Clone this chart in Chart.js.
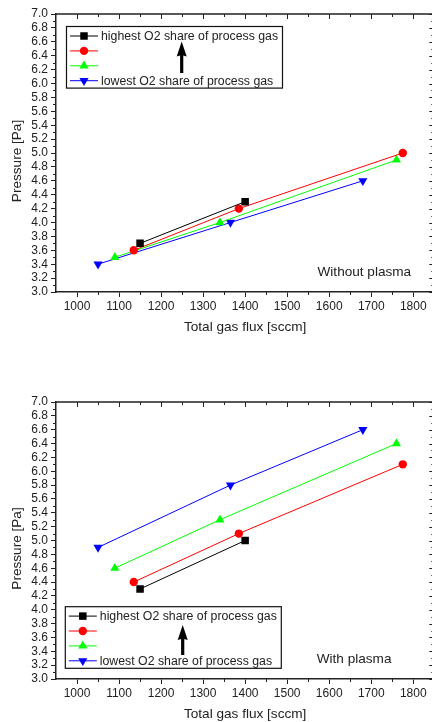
<!DOCTYPE html>
<html><head><meta charset="utf-8">
<script src="https://cdn.jsdelivr.net/npm/chart.js@4/dist/chart.umd.min.js"></script>
<style>
html,body{margin:0;padding:0;background:#fff;overflow:hidden;width:432px;height:722px}
#wrap{width:432px;height:722px;overflow:hidden;position:relative;background:#fff}
canvas{display:block}
</style></head><body>
<div id="wrap"><canvas id="c1" width="440" height="361"></canvas><canvas id="c2" width="440" height="361"></canvas></div>
<script>
// ---- data ----
const seriesLabels = ['highest O2 share of process gas', '', '', 'lowest O2 share of process gas'];
const fluxBlack = [1150, 1400];
const fluxRed   = [1135, 1385, 1775];
const fluxGreen = [1090, 1340, 1760];
const fluxBlue  = [1050, 1365, 1680];
const pNoPlasmaBlack = [3.7, 4.3];
const pNoPlasmaRed   = [3.6, 4.2, 5.0];
const pNoPlasmaGreen = [3.5, 4.0, 4.9];
const pNoPlasmaBlue  = [3.4, 4.0, 4.6];
const pPlasmaBlack = [4.3, 5.0];
const pPlasmaRed   = [4.4, 5.1, 6.1];
const pPlasmaGreen = [4.6, 5.3, 6.4];
const pPlasmaBlue  = [4.9, 5.8, 6.6];
const xTicks = [1000, 1100, 1200, 1300, 1400, 1500, 1600, 1700, 1800];
const yTicks = [3.0, 3.2, 3.4, 3.6, 3.8, 4.0, 4.2, 4.4, 4.6, 4.8, 5.0, 5.2, 5.4, 5.6, 5.8, 6.0, 6.2, 6.4, 6.6, 6.8, 7.0];
const xRange = [950, 1850];
const yRange = [3.0, 7.0];
const xTitle = 'Total gas flux [sccm]';
const yTitle = 'Pressure [Pa]';

const FONT = '"Liberation Sans", Arial, Helvetica, sans-serif';
const INK = '#222';
const mids = a => a.slice(1).map((v, i) => (v + a[i]) / 2);
const xMinor = mids(xTicks);
const yMinor = mids(yTicks);

function pts(xs, ys) { return xs.map((x, i) => ({x: x, y: ys[i]})); }

const styles = [
  {color: '#000000', pointStyle: 'rect', r: 5.3, rot: 0},
  {color: '#ff0000', pointStyle: 'circle', r: 4.2, rot: 0},
  {color: '#00ff00', pointStyle: 'triangle', r: 5.3, rot: 0},
  {color: '#0000ff', pointStyle: 'triangle', r: 5.3, rot: 180}
];

function makeDatasets(series) {
  return series.map((s, i) => ({
    label: seriesLabels[i],
    data: pts(s[0], s[1]),
    showLine: true,
    borderColor: styles[i].color,
    backgroundColor: styles[i].color,
    borderWidth: 1,
    tension: 0,
    pointStyle: styles[i].pointStyle,
    pointRotation: styles[i].rot,
    pointRadius: styles[i].r,
    pointHoverRadius: styles[i].r,
    pointBorderWidth: 0,
    pointBackgroundColor: styles[i].color,
    pointBorderColor: styles[i].color
  }));
}

const framePlugin = {
  id: 'frame',
  afterDraw(chart, args, o) {
    const {ctx, chartArea: a, scales: {x, y}} = chart;
    ctx.save();
    ctx.strokeStyle = INK;
    ctx.lineWidth = 1.5;
    ctx.beginPath();
    ctx.moveTo(a.left, a.top); ctx.lineTo(a.right, a.top); ctx.lineTo(a.right, a.bottom);
    ctx.stroke();
    ctx.lineWidth = 1;
    ctx.beginPath();
    const MJ = 5, MN = 3;
    xTicks.forEach(v => { const p = Math.round(x.getPixelForValue(v)) + 0.5; ctx.moveTo(p, a.top); ctx.lineTo(p, a.top + MJ); });
    xMinor.forEach(v => {
      const p = Math.round(x.getPixelForValue(v)) + 0.5;
      ctx.moveTo(p, a.top); ctx.lineTo(p, a.top + MN);
      ctx.moveTo(p, a.bottom); ctx.lineTo(p, a.bottom + MN);
    });
    yTicks.forEach(v => { const p = Math.round(y.getPixelForValue(v)) + 0.5; ctx.moveTo(a.right, p); ctx.lineTo(a.right - MJ, p); });
    yMinor.forEach(v => {
      const p = Math.round(y.getPixelForValue(v)) + 0.5;
      ctx.moveTo(a.left, p); ctx.lineTo(a.left - MN, p);
      ctx.moveTo(a.right, p); ctx.lineTo(a.right - MN, p);
    });
    ctx.stroke();
    // y title
    ctx.fillStyle = INK;
    ctx.font = '13.6px ' + FONT;
    ctx.textAlign = 'center'; ctx.textBaseline = 'middle';
    ctx.translate(o.yTitleX, (a.top + a.bottom) / 2 + o.yTitleShift);
    ctx.rotate(-Math.PI / 2);
    ctx.fillText(yTitle, 0, 0);
    ctx.restore();
    // annotation
    ctx.save();
    ctx.fillStyle = INK;
    ctx.font = '13.6px ' + FONT;
    ctx.textAlign = 'left'; ctx.textBaseline = 'middle';
    ctx.fillText(o.note, o.noteX, o.noteY);
    ctx.restore();
  }
};

const boxLegend = {
  id: 'boxLegend',
  afterDraw(chart, args, o) {
    const ctx = chart.ctx;
    ctx.save();
    ctx.fillStyle = '#fff';
    ctx.fillRect(o.x, o.y, o.w, o.h);
    ctx.strokeStyle = '#111';
    ctx.lineWidth = 1.2;
    ctx.strokeRect(o.x, o.y, o.w, o.h);
    chart.data.datasets.forEach((ds, i) => {
      const yy = o.y + o.first + i * o.step;
      ctx.strokeStyle = ds.borderColor; ctx.lineWidth = 1;
      ctx.beginPath(); ctx.moveTo(o.x + 3.5, yy); ctx.lineTo(o.x + 31.5, yy); ctx.stroke();
      ctx.fillStyle = ds.pointBackgroundColor; ctx.strokeStyle = ds.pointBorderColor;
      Chart.helpers.drawPoint(ctx, {pointStyle: ds.pointStyle, radius: ds.pointRadius, rotation: ds.pointRotation, borderWidth: 0}, o.x + 17.5, yy);
      if (ds.label) {
        ctx.fillStyle = INK; ctx.font = '12.3px ' + FONT;
        ctx.textAlign = 'left'; ctx.textBaseline = 'middle';
        ctx.fillText(ds.label, o.x + 34.5, yy + 0.5);
      }
    });
    // arrow
    ctx.fillStyle = '#000';
    ctx.beginPath();
    ctx.moveTo(o.ax, o.atip);
    ctx.lineTo(o.ax + 5, o.atip + 15);
    ctx.lineTo(o.ax + 1.6, o.atip + 14);
    ctx.lineTo(o.ax + 1.6, o.atip + o.alen);
    ctx.lineTo(o.ax - 1.6, o.atip + o.alen);
    ctx.lineTo(o.ax - 1.6, o.atip + 14);
    ctx.lineTo(o.ax - 5, o.atip + 15);
    ctx.closePath();
    ctx.fill();
    ctx.restore();
  }
};

function makeChart(id, series, cfg) {
  return new Chart(document.getElementById(id), {
    type: 'scatter',
    data: {datasets: makeDatasets(series)},
    plugins: [framePlugin, boxLegend],
    options: {
      responsive: false,
      animation: false,
      devicePixelRatio: 1,
      layout: {padding: {left: 0, right: 5.7, top: cfg.padTop, bottom: cfg.padBottom}},
      plugins: {
        legend: {display: false},
        tooltip: {enabled: false},
        frame: cfg.frame,
        boxLegend: cfg.legend
      },
      scales: {
        x: {
          type: 'linear', min: xRange[0], max: xRange[1],
          afterBuildTicks: s => { s.ticks = xTicks.map(v => ({value: v})); },
          afterFit: s => { s.height = 43; },
          ticks: {font: {family: FONT, size: 12}, color: INK, padding: 2, maxRotation: 0, autoSkip: false, callback: v => String(v)},
          grid: {drawOnChartArea: false, drawTicks: true, tickLength: 5, color: INK, lineWidth: 1},
          border: {display: true, color: INK, width: 1.5},
          title: {display: true, text: xTitle, font: {family: FONT, size: 13.6}, color: INK, padding: {top: 0, bottom: 0}}
        },
        y: {
          type: 'linear', min: yRange[0], max: yRange[1],
          afterBuildTicks: s => { s.ticks = yTicks.map(v => ({value: v})); },
          afterFit: s => { s.width = 56; },
          ticks: {font: {family: FONT, size: 12}, color: INK, padding: 3, autoSkip: false, callback: v => Number(v).toFixed(1)},
          grid: {drawOnChartArea: false, drawTicks: true, tickLength: 5, color: INK, lineWidth: 1},
          border: {display: true, color: INK, width: 1.5},
          title: {display: false}
        }
      }
    }
  });
}

makeChart('c1',
  [[fluxBlack, pNoPlasmaBlack], [fluxRed, pNoPlasmaRed], [fluxGreen, pNoPlasmaGreen], [fluxBlue, pNoPlasmaBlue]],
  {
    padTop: 14, padBottom: 26,
    frame: {yTitleX: 17.5, yTitleShift: 8, note: 'Without plasma', noteX: 317.5, noteY: 272},
    legend: {x: 66.5, y: 26.5, w: 216, h: 61.6, first: 9.5, step: 14.9, ax: 181.7, atip: 41.5, alen: 31.5}
  });

makeChart('c2',
  [[fluxBlack, pPlasmaBlack], [fluxRed, pPlasmaRed], [fluxGreen, pPlasmaGreen], [fluxBlue, pPlasmaBlue]],
  {
    padTop: 41, padBottom: 0,
    frame: {yTitleX: 17.5, yTitleShift: 8, note: 'With plasma', noteX: 316.7, noteY: 298.3},
    legend: {x: 65.3, y: 245.7, w: 216, h: 61.6, first: 9.4, step: 14.9, ax: 182.7, atip: 264, alen: 30}
  });
</script>
</body></html>
